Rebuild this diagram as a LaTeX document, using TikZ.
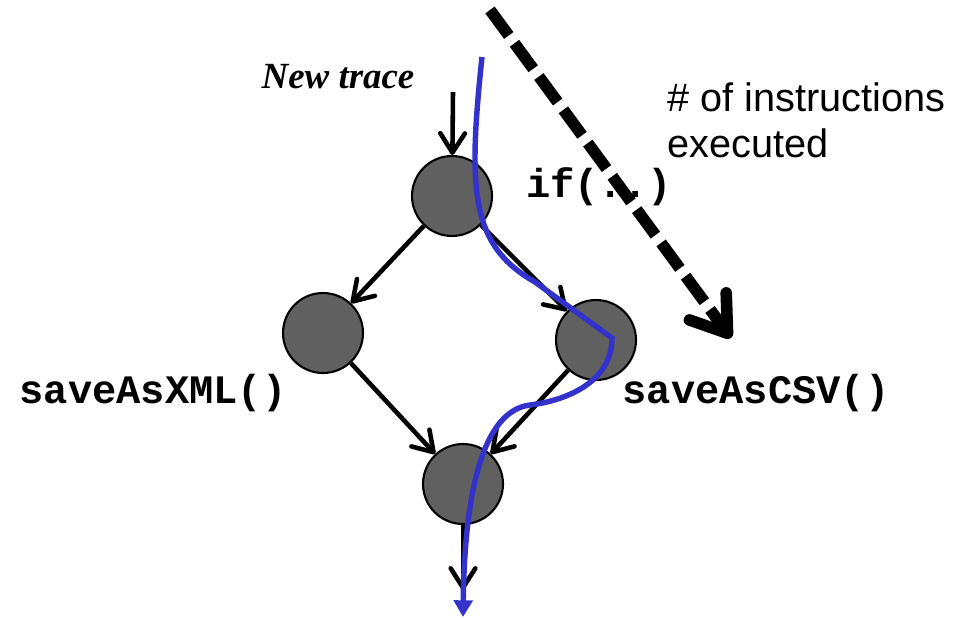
\documentclass[tikz,border=0pt]{standalone}
\usepackage{fontspec}
\setmainfont{Liberation Serif}
\setsansfont{Liberation Sans}
\setmonofont{Liberation Mono}
\usetikzlibrary{arrows.meta}
\definecolor{blobgray}{RGB}{96,96,96}
\definecolor{traceblue}{RGB}{51,51,204}
\begin{document}
\begin{tikzpicture}[x=0.02cm,y=-0.02cm,
    blob/.style={circle,draw=black,line width=1.2pt,fill=blobgray,minimum size=1.6cm,inner sep=0pt},
    flow/.style={line width=2.6pt,-{Straight Barb[length=11pt,width=14pt,line width=2.6pt,round]}},
    code/.style={font=\fontsize{23}{26}\selectfont\ttfamily\bfseries}]
        \useasboundingbox (0,0) rectangle (969,618);
        %% the four blocks
        \node[blob] (top) at (452,196) {};
        \node[blob] (left) at (323,333) {};
        \node[blob] (right) at (596,340) {};
        \node[blob] (bot) at (463,484) {};
        \coordinate (in) at (453,92);
        \coordinate (out) at (463,590);
        %%
        \draw[flow] (in) -- (top);
        \draw[flow] (top) -- (left);
        \draw[flow] (top) -- (right);
        \draw[flow] (left) -- (bot);
        \draw[flow] (right) -- (bot);
        \draw[flow] (bot) -- (out);
        %% labels
        \node (newtrace) at (338,77) {\fontsize{21}{24}\selectfont\bfseries\itshape New trace};
        \node[anchor=west,align=left,font=\fontsize{22.6}{26}\selectfont\sffamily] (count) at (661,120) {\# of instructions\\executed};
        \node[code] (iflbl) at (599,187) {if(..)};
        \node[code] (xml) at (153,393) {saveAsXML()};
        \node[code] (csv) at (756,393) {saveAsCSV()};
        %% instruction count
        \coordinate (dstart) at (490,10);
        \coordinate (dend) at (731,338);
        \draw[line width=6.6pt,dash pattern=on 18pt off 5.5pt,
          -{Straight Barb[length=19pt,width=26pt,line width=6.6pt,round]}] (dstart) -- (dend);
        %% executed trace
        \coordinate (tstart) at (482,57);
        \coordinate (tbend) at (535,282);
        \coordinate (tcorner) at (612,338);
        \coordinate (tmid) at (530,405);
        \coordinate (tend) at (463,617);
        \draw[traceblue,line width=3.1pt,-{Triangle[length=9.5pt,width=10.5pt]}]
          (tstart) .. controls (468,190) and (470,245) .. (tbend) -- (tcorner)
          .. controls (612,380) and (570,400) .. (tmid)
          .. controls (490,410) and (465,470) .. (tend);
\end{tikzpicture}
\end{document}
